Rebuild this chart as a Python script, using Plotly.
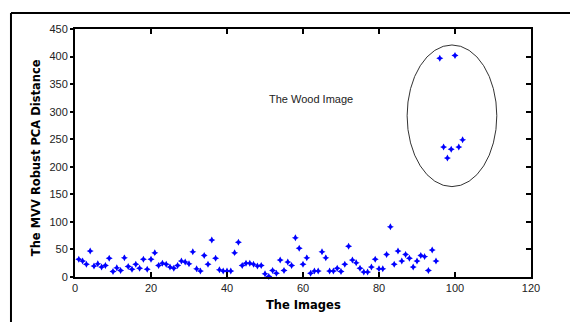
import plotly.graph_objects as go

image_index = list(range(1, 103))
distance = [32, 29, 23, 47, 20, 24, 18, 21, 34, 10,
            17, 12, 35, 19, 14, 23, 16, 32, 14, 32,
            44, 21, 25, 23, 18, 16, 21, 29, 27, 24,
            46, 15, 11, 39, 23, 67, 34, 13, 11, 11,
            11, 44, 63, 21, 25, 25, 23, 20, 21, 6,
            1, 12, 7, 31, 12, 27, 21, 71, 52, 23,
            35, 7, 11, 11, 46, 35, 11, 11, 16, 10,
            23, 56, 31, 26, 16, 9, 9, 18, 32, 15,
            15, 41, 91, 23, 47, 29, 41, 34, 18, 29,
            39, 37, 12, 49, 29,
            397, 236, 216, 232, 402, 236, 249]

x_ticks = [0, 20, 40, 60, 80, 100, 120]
y_ticks = [0, 50, 100, 150, 200, 250, 300, 350, 400, 450]
x_title = "The Images"
y_title = "The MVV Robust PCA Distance"
note_text = "The Wood Image"

fig = go.Figure()
fig.add_trace(go.Scatter(
    x=image_index, y=distance, mode="markers",
    marker=dict(symbol="star-diamond", size=5, color="#0000ff", line=dict(width=0)),
    showlegend=False, cliponaxis=False,
))
# invisible trace to create right-side axis with inward ticks
fig.add_trace(go.Scatter(x=[None], y=[None], yaxis="y2", showlegend=False))

tick_font = dict(family="Liberation Sans, Arial, sans-serif", size=11, color="#222")

fig.update_layout(
    width=570, height=322,
    margin=dict(l=75, r=39, t=29, b=45),
    paper_bgcolor="white", plot_bgcolor="white",
    xaxis=dict(range=[0, 120], tickvals=x_ticks, ticks="inside", ticklen=5,
               tickwidth=2, tickcolor="black", showline=True, linecolor="black",
               linewidth=2, mirror="ticks", showgrid=False, zeroline=False,
               tickfont=tick_font),
    yaxis=dict(range=[0, 450], tickvals=y_ticks, ticks="outside", ticklen=3,
               tickwidth=2, tickcolor="black", showline=True, linecolor="black",
               linewidth=2, showgrid=False, zeroline=False, tickfont=tick_font),
    yaxis2=dict(range=[0, 450], tickvals=y_ticks, overlaying="y", side="right",
                ticks="inside", ticklen=5, tickwidth=2, tickcolor="black",
                showline=True, linecolor="black", linewidth=2,
                showticklabels=False, showgrid=False, zeroline=False),
    font=dict(family="Liberation Sans, Arial, sans-serif"),
)

# Ellipse around the outliers
fig.add_shape(type="circle", xref="x", yref="y",
              x0=87.4, x1=111.0, y0=164, y1=421,
              line=dict(color="#333", width=1))

fig.add_annotation(x=62, y=323, xref="x", yref="y", text=note_text,
                   showarrow=False, font=dict(family="Liberation Sans, Arial, sans-serif",
                                              size=11, color="#222"))

fig.add_annotation(x=0.5, y=-0.111, xref="paper", yref="paper", text=x_title,
                   showarrow=False, xanchor="center", yanchor="middle",
                   font=dict(family="DejaVu Sans", size=11.5, color="black", weight="bold"))
fig.add_annotation(x=-0.085, y=0.48, xref="paper", yref="paper", text=y_title,
                   showarrow=False, textangle=-90, xanchor="center", yanchor="middle",
                   font=dict(family="DejaVu Sans", size=11.5, color="black", weight="bold"))

# Outer frame (left and top)
fig.add_shape(type="line", xref="paper", yref="paper",
              x0=-0.1404, x1=-0.1404, y0=-0.2, y1=1.0645,
              line=dict(color="black", width=2))
fig.add_shape(type="line", xref="paper", yref="paper",
              x0=-0.1404, x1=1.1, y0=1.0645, y1=1.0645,
              line=dict(color="black", width=2))

fig.write_html("out.html")
